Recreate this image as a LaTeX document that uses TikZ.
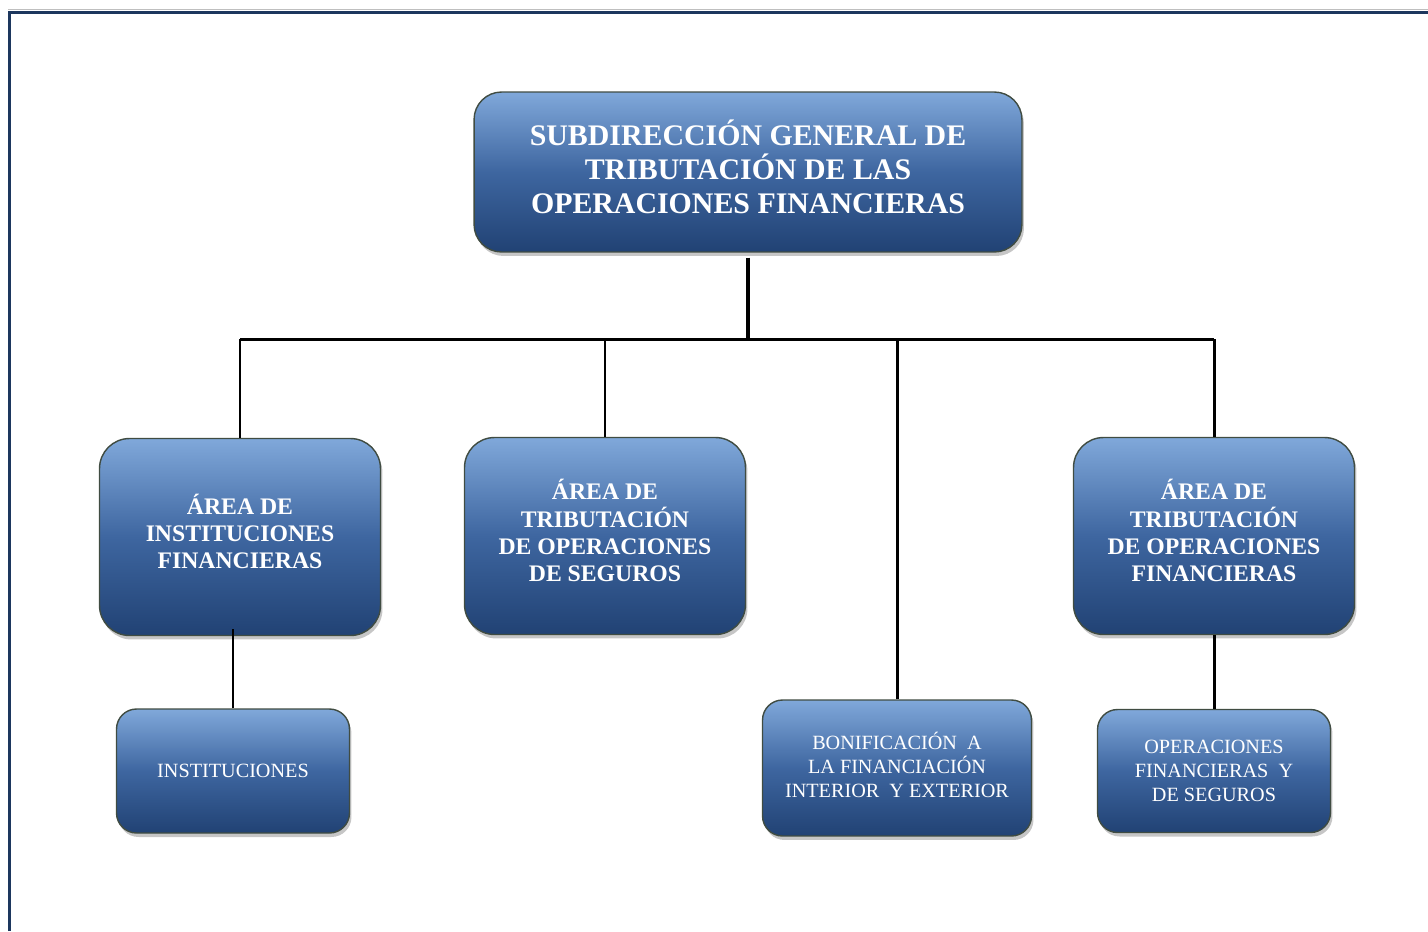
\documentclass[tikz,border=0pt]{standalone}
\usepackage{fontspec}
\setmainfont{Liberation Serif}
\usepackage{tikz}
\usetikzlibrary{shadows}
\definecolor{boxhi}{RGB}{128,168,218}
\definecolor{boxmid}{RGB}{62,102,160}
\definecolor{boxlo}{RGB}{33,66,116}
\definecolor{boxedge}{RGB}{64,76,66}
\definecolor{framenavy}{RGB}{29,55,94}
\tikzstyle{unit} = [rectangle, rounded corners=0.55cm, draw=boxedge, line width=0.8pt, top color=boxhi, bottom color=boxlo, middle color=boxmid, text=white, align=center, inner sep=0pt, drop shadow={shadow xshift=0.04cm, shadow yshift=-0.08cm, opacity=0.45}]
\tikzset{
  head/.style={
    unit,
    minimum width=10.96cm,
    minimum height=3.2cm,
    text depth=6.2pt,
    font=\bfseries\fontsize{17}{19.5}\selectfont
    },
  area/.style={
    unit,
    rounded corners=0.6cm,
    minimum width=5.62cm,
    minimum height=3.94cm,
    text depth=6.4pt,
    font=\bfseries\fontsize{13.5}{15.4}\selectfont
    },
  office/.style={
    unit,
    rounded corners=0.4cm,
    font=\fontsize{11.5}{13.7}\selectfont
    },
  link/.style={line width=1.7pt},
}

\begin{document}
\begin{tikzpicture}[x=0.02cm, y=-0.02cm]
\useasboundingbox (0,0) rectangle (1428,931);
% page frame
\draw[black!25, line width=0.6pt] (8,9.3) -- (1428,9.3);
\draw[framenavy, line width=0.06cm] (9.5,931) -- (9.5,12) -- (1428,12);

\node (head) [head] at (748,172) {SUBDIRECCIÓN GENERAL DE\\TRIBUTACIÓN DE LAS\\OPERACIONES FINANCIERAS};
\node (a1) [area] at (240,537) {ÁREA DE\\INSTITUCIONES\\FINANCIERAS};
\node (a2) [area] at (605,536) {ÁREA DE\\TRIBUTACIÓN\\DE OPERACIONES\\DE SEGUROS};
\node (a4) [area] at (1214,536) {ÁREA DE\\TRIBUTACIÓN\\DE OPERACIONES\\FINANCIERAS};
\node (b1) [office, minimum width=4.66cm, minimum height=2.48cm] at (233,771) {INSTITUCIONES};
\node (b3) [office, minimum width=5.38cm, minimum height=2.72cm, text depth=3.4pt] at (897,768) {BONIFICACIÓN\ \ A\\LA FINANCIACIÓN\\INTERIOR\ \ Y EXTERIOR};
\node (b4) [office, minimum width=4.66cm, minimum height=2.46cm] at (1214,771) {OPERACIONES\\FINANCIERAS\ \ Y\\DE SEGUROS};
\coordinate (bus) at (748,339);

\draw [link, line width=2.3pt] ([yshift=-0.1cm]head.south) -- (head.south |- bus);
\draw [link] (a1.north |- bus) -- (a4.north |- bus);
\draw [link] (a1.north) -- (a1.north |- bus);
\draw [link] (a2.north) -- (a2.north |- bus);
\draw [link] (b3.north) -- (b3.north |- bus);
\draw [link] (a4.north) -- (a4.north |- bus);
\draw [link] (b1.north) -- ([yshift=0.15cm]b1.north |- a1.south);
\draw [link] (b4.north) -- (b4.north |- a4.south);

\end{tikzpicture}
\end{document}
